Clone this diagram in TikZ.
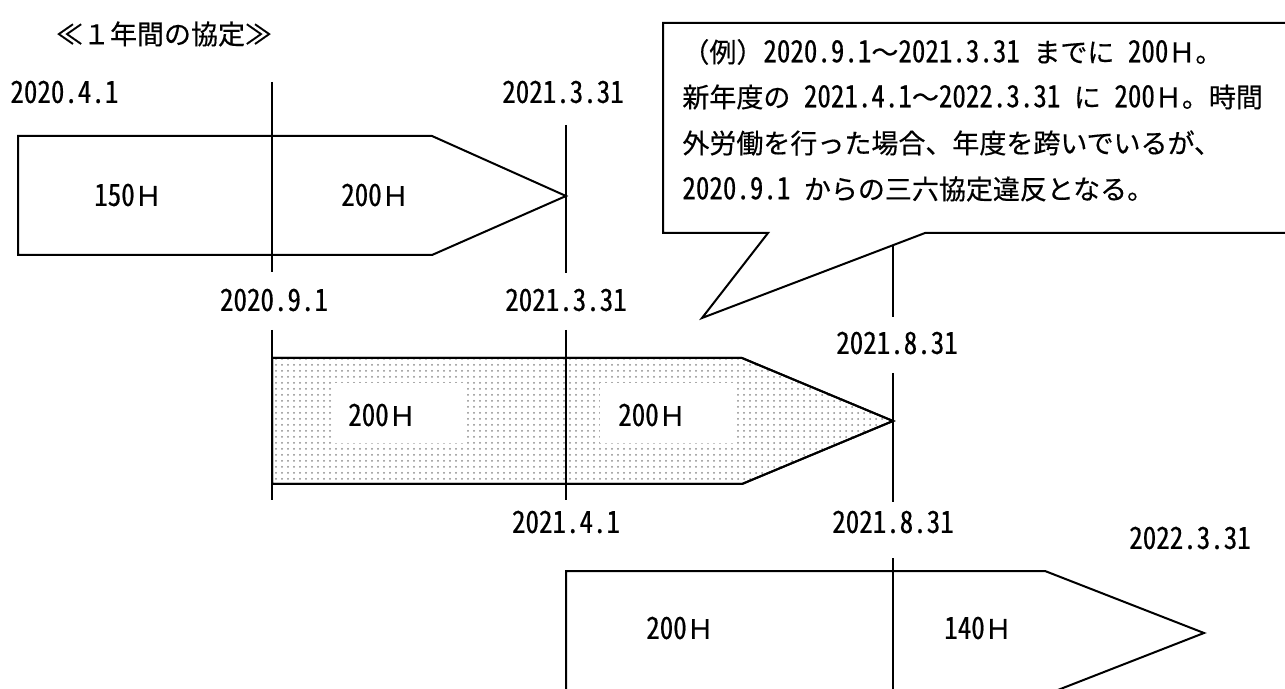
\documentclass[tikz,border=0pt]{standalone}
\usepackage{fontspec}
\setmainfont{Noto Sans CJK JP}[FakeBold=0.4]
\newfontfamily\hw{Noto Sans CJK JP}[RawFeature=+hwid, Scale=1.13, FakeStretch=0.885, FakeBold=0.4]
\usetikzlibrary{patterns}
\newcommand\hn[1]{{\hw #1}}
\begin{document}
\begin{tikzpicture}[x=0.5pt,y=-0.5pt,
  txt/.style={font=\fontsize{13.5pt}{16pt}\selectfont, inner sep=0pt},
  ttl/.style={font=\fontsize{13.5pt}{16pt}\selectfont, inner sep=0pt},
  bx/.style={draw, line width=1pt, line join=miter},
  vl/.style={line width=0.8pt},
  wbox/.style={fill=white, draw=none}]
\clip (0,0) rectangle (1285,689);
\fill[white] (0,0) rectangle (1285,689);

% title
\node[ttl] (title) at (164,34) {≪１年間の協定≫};

% ---- first arrow (one-year agreement) ----
\draw[bx] (18,136) -- (432,136) -- (566,196) -- (432,255) -- (18,255) -- cycle;
\coordinate (a1t) at (272,82);  \coordinate (a1b) at (272,272);
\coordinate (b1t) at (566,125); \coordinate (b1b) at (566,273);
\draw[vl] (a1t) -- (a1b);
\draw[vl] (b1t) -- (b1b);
\node[txt, anchor=west] (d1) at (10,92) {\hn{2020.4.1}};
\node[txt] (d2) at (563,92) {\hn{2021.3.31}};
\node[txt] (h1) at (128,195) {\hn{150}Ｈ};
\node[txt] (h2) at (375,195) {\hn{200}Ｈ};
\node[txt] (d3) at (274,300) {\hn{2020.9.1}};
\node[txt] (d4) at (566,300) {\hn{2021.3.31}};

% ---- second arrow (shaded) ----
\draw[bx, pattern=dots, pattern color=black!45] (272,358) -- (742,358) -- (893,421) -- (742,484) -- (272,484) -- cycle;
\fill[wbox] (333,383) rectangle (463,443);
\fill[wbox] (600,383) rectangle (733,443);
\draw[bx] (272,358) -- (742,358) -- (893,421) -- (742,484) -- (272,484) -- cycle;
\coordinate (a2t) at (272,330); \coordinate (a2b) at (272,500);
\coordinate (b2t) at (566,330); \coordinate (b2b) at (566,500);
\coordinate (c2t) at (893,373); \coordinate (c2b) at (893,502);
\draw[vl] (a2t) -- (a2b);
\draw[vl] (b2t) -- (b2b);
\draw[vl] (c2t) -- (c2b);
\node[txt] (h3) at (382,415) {\hn{200}Ｈ};
\node[txt] (h4) at (652,415) {\hn{200}Ｈ};
\node[txt] (d5) at (897,343) {\hn{2021.8.31}};

% ---- third arrow ----
\draw[bx] (566,695) -- (566,571) -- (1045,571) -- (1204,633) -- (1045,695) -- cycle;
\coordinate (c3t) at (893,558); \coordinate (c3b) at (893,700);
\draw[vl] (c3t) -- (c3b);
\node[txt] (d6) at (566,522) {\hn{2021.4.1}};
\node[txt] (d7) at (893,522) {\hn{2021.8.31}};
\node[txt] (d8) at (1190,538) {\hn{2022.3.31}};
\node[txt] (h5) at (680,628) {\hn{200}Ｈ};
\node[txt] (h6) at (978,628) {\hn{140}Ｈ};

% ---- callout ----
\draw[bx, fill=white] (1300,23) -- (663,23) -- (663,233) -- (768,233) -- (702,318) -- (925,233) -- (1300,233);
\coordinate (c1t) at (893,245); \coordinate (c1b) at (893,317);
\draw[vl] (c1t) -- (c1b);
\node[txt, anchor=west] (l1) at (682,52) {（例）\hn{2020.9.1}～\hn{2021.3.31\ }までに\hn{\ 200}Ｈ。};
\node[txt, anchor=west] (l2) at (682,97) {新年度の\hn{\ 2021.4.1}～\hn{2022.3.31\ }に\hn{\ 200}Ｈ。時間};
\node[txt, anchor=west] (l3) at (682,143) {外労働を行った場合、年度を跨いでいるが、};
\node[txt, anchor=west] (l4) at (682,189) {\hn{2020.9.1\ }からの三六協定違反となる。};
\end{tikzpicture}
\end{document}
